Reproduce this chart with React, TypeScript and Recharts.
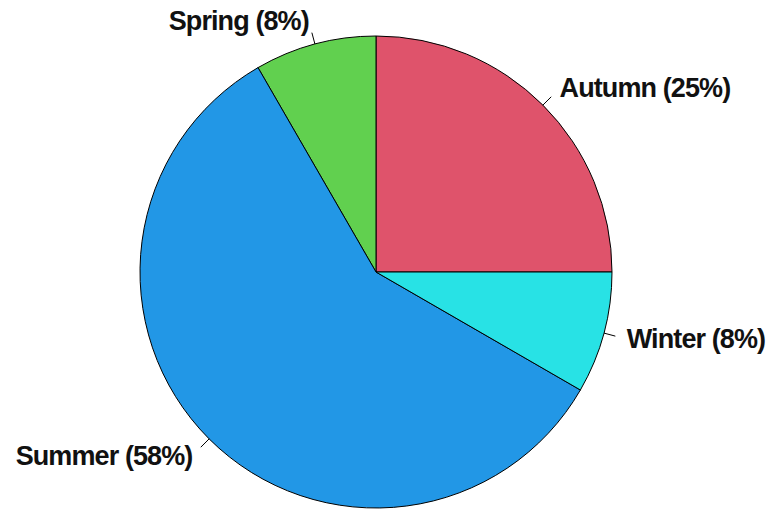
import { PieChart, Pie, Cell } from 'recharts';

const seasons = ['Autumn', 'Spring', 'Summer', 'Winter'];
const counts = [3, 1, 7, 1];
const colors = ['#DF536B', '#61D04F', '#2297E6', '#28E2E5'];

const data = seasons.map((name, i) => ({ name, value: counts[i] }));

const RADIAN = Math.PI / 180;

function renderLabel(props: any) {
  const { cx, cy, midAngle, outerRadius, percent, name } = props;
  const cos = Math.cos(-midAngle * RADIAN);
  const sin = Math.sin(-midAngle * RADIAN);
  const x1 = cx + outerRadius * cos;
  const y1 = cy + outerRadius * sin;
  const x2 = cx + outerRadius * 1.05 * cos;
  const y2 = cy + outerRadius * 1.05 * sin;
  const tx = cx + outerRadius * 1.1 * cos;
  const ty = cy + outerRadius * 1.1 * sin;
  return (
    <g>
      <line x1={x1} y1={y1} x2={x2} y2={y2} stroke="#000" strokeWidth={1} />
      <text
        x={tx}
        y={ty}
        textAnchor={cos >= 0 ? 'start' : 'end'}
        dominantBaseline="central"
        fill="#111"
        fontFamily="'Liberation Sans', Arial, sans-serif"
        fontWeight="bold"
        fontSize={27}
        letterSpacing={-0.9}
      >
        {`${name} (${Math.round(percent * 100)}%)`}
      </text>
    </g>
  );
}

export default function App() {
  return (
    <div style={{ position: 'absolute', left: 0, top: 0, background: '#fff' }}>
      <PieChart width={767} height={509} margin={{ top: 0, right: 0, bottom: 0, left: 0 }}>
        <Pie
          data={data}
          dataKey="value"
          nameKey="name"
          cx={376}
          cy={272}
          outerRadius={236}
          startAngle={0}
          endAngle={360}
          stroke="#000"
          strokeWidth={1}
          label={renderLabel}
          labelLine={false}
          isAnimationActive={false}
        >
          {data.map((d, i) => (
            <Cell key={d.name} fill={colors[i]} />
          ))}
        </Pie>
      </PieChart>
    </div>
  );
}
